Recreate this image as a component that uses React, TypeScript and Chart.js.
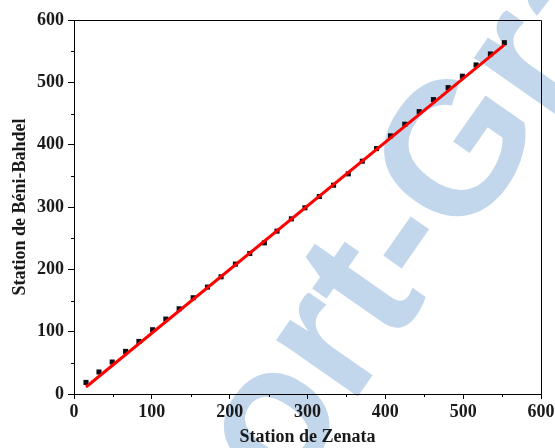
import React, { useEffect, useRef } from "react";
import { Chart, registerables } from "chart.js";

Chart.register(...registerables);

// Observed data (Station de Zenata vs Station de Béni-Bahdel)
const zenata = [
  15.4, 32.1, 49.1, 66.3, 83.4, 101.0, 118.0, 135.1, 153.1, 171.5, 189.0,
  207.4, 225.8, 244.6, 260.8, 279.3, 296.7, 315.2, 333.5, 352.4, 370.4,
  388.7, 406.7, 425.0, 443.5, 461.8, 480.7, 499.0, 516.6, 535.0, 552.9,
];
const beniBahdel = [
  18.6, 35.3, 51.3, 68.3, 84.3, 103.1, 120.2, 136.7, 154.4, 171.5, 188.0,
  208.4, 225.4, 242.5, 261.3, 281.0, 298.7, 316.8, 335.0, 353.2, 373.5,
  393.7, 414.1, 432.8, 453.0, 472.3, 491.5, 509.8, 527.9, 545.5, 563.6,
];
// Fitted line end points
const fitX = [15.4, 552.9];
const fitY = [11.2, 560.0];

const axisTicks = [0, 100, 200, 300, 400, 500, 600];
const minorTicks = [50, 150, 250, 350, 450, 550];

const watermarkPre = "Rapport";
const watermarkDash = "-";
const watermarkPost = "Gratuit.com";

const FONT = "'Liberation Serif', 'Times New Roman', serif";

const watermarkPlugin = {
  id: "watermark",
  beforeDraw(chart: any) {
    const { ctx } = chart;
    ctx.save();
    const size = 188;
    ctx.font = `bold ${size}px 'Liberation Sans', Arial, sans-serif`;
    ctx.fillStyle = "#c2d6ec";
    ctx.textBaseline = "alphabetic";
    ctx.textAlign = "left";
    const w1 = ctx.measureText(watermarkPre).width;
    const wh = ctx.measureText(watermarkDash).width;
    ctx.translate(400, 238);
    ctx.rotate((-55 * Math.PI) / 180);
    const x0 = -(w1 + wh / 2);
    const y0 = size * 0.3;
    ctx.fillText(watermarkPre + watermarkDash + watermarkPost, x0, y0);
    ctx.restore();
  },
};

const framePlugin = {
  id: "frame",
  afterDraw(chart: any) {
    const { ctx, chartArea } = chart;
    const xs = chart.scales.x;
    const ys = chart.scales.y;
    ctx.save();
    ctx.strokeStyle = "#000";
    ctx.lineWidth = 1;
    ctx.beginPath();
    ctx.moveTo(chartArea.left, chartArea.top + 0.5);
    ctx.lineTo(chartArea.right + 0.5, chartArea.top + 0.5);
    ctx.lineTo(chartArea.right + 0.5, chartArea.bottom);
    ctx.stroke();
    ctx.beginPath();
    for (const v of minorTicks) {
      const px = Math.round(xs.getPixelForValue(v)) + 0.5;
      ctx.moveTo(px, chartArea.bottom);
      ctx.lineTo(px, chartArea.bottom + 3);
      const py = Math.round(ys.getPixelForValue(v)) + 0.5;
      ctx.moveTo(chartArea.left, py);
      ctx.lineTo(chartArea.left - 3, py);
    }
    ctx.stroke();
    ctx.restore();
  },
};

export default function App() {
  const ref = useRef<HTMLCanvasElement>(null);
  useEffect(() => {
    const chart = new Chart(ref.current!, {
      type: "scatter",
      data: {
        datasets: [
          {
            type: "line",
            data: fitX.map((x, i) => ({ x, y: fitY[i] })),
            borderColor: "#ff0000",
            borderWidth: 3,
            pointRadius: 0,
            fill: false,
            order: 0,
          } as any,
          {
            data: zenata.map((x, i) => ({ x, y: beniBahdel[i] })),
            pointStyle: "rect",
            pointRadius: 3.6,
            backgroundColor: "#0d0f18",
            borderColor: "#0d0f18",
            borderWidth: 0,
            order: 1,
          },
        ],
      },
      options: {
        responsive: false,
        animation: false,
        layout: { padding: { top: 20, right: 14, left: 0, bottom: 0 } },
        plugins: { legend: { display: false }, tooltip: { enabled: false } },
        scales: {
          x: {
            type: "linear",
            min: 0,
            max: 600,
            afterBuildTicks: (s: any) => {
              s.ticks = axisTicks.map((v) => ({ value: v }));
            },
            afterFit: (s: any) => {
              s.height = 54;
              s.paddingLeft = 0;
              s.paddingRight = 0;
            },
            ticks: {
              color: "#1a1a1a",
              font: { family: FONT, size: 18, weight: "bold" },
              padding: 3,
              maxRotation: 0,
            },
            grid: {
              display: true,
              drawOnChartArea: false,
              drawTicks: true,
              tickLength: 5,
              color: "#000",
              tickColor: "#000",
            },
            border: { display: true, color: "#000", width: 1 },
            title: {
              display: true,
              text: "Station de Zenata",
              color: "#1a1a1a",
              font: { family: FONT, size: 18, weight: "bold" },
              padding: { top: 1, bottom: 0 },
            },
          },
          y: {
            type: "linear",
            min: 0,
            max: 600,
            afterBuildTicks: (s: any) => {
              s.ticks = axisTicks.map((v) => ({ value: v }));
            },
            afterFit: (s: any) => {
              s.width = 74;
            },
            ticks: {
              color: "#1a1a1a",
              font: { family: FONT, size: 18, weight: "bold" },
              padding: 4,
            },
            grid: {
              display: true,
              drawOnChartArea: false,
              drawTicks: true,
              tickLength: 6,
              color: "#000",
              tickColor: "#000",
            },
            border: { display: true, color: "#000", width: 1 },
            title: {
              display: true,
              text: "Station de Béni-Bahdel",
              color: "#1a1a1a",
              font: { family: FONT, size: 18, weight: "bold" },
              padding: { top: 10, bottom: 0 },
            },
          },
        },
      } as any,
      plugins: [watermarkPlugin, framePlugin],
    });
    return () => chart.destroy();
  }, []);
  return (
    <div style={{ position: "absolute", left: 0, top: 0, width: 555, height: 448, background: "#fff" }}>
      <canvas ref={ref} width={555} height={448} />
    </div>
  );
}
